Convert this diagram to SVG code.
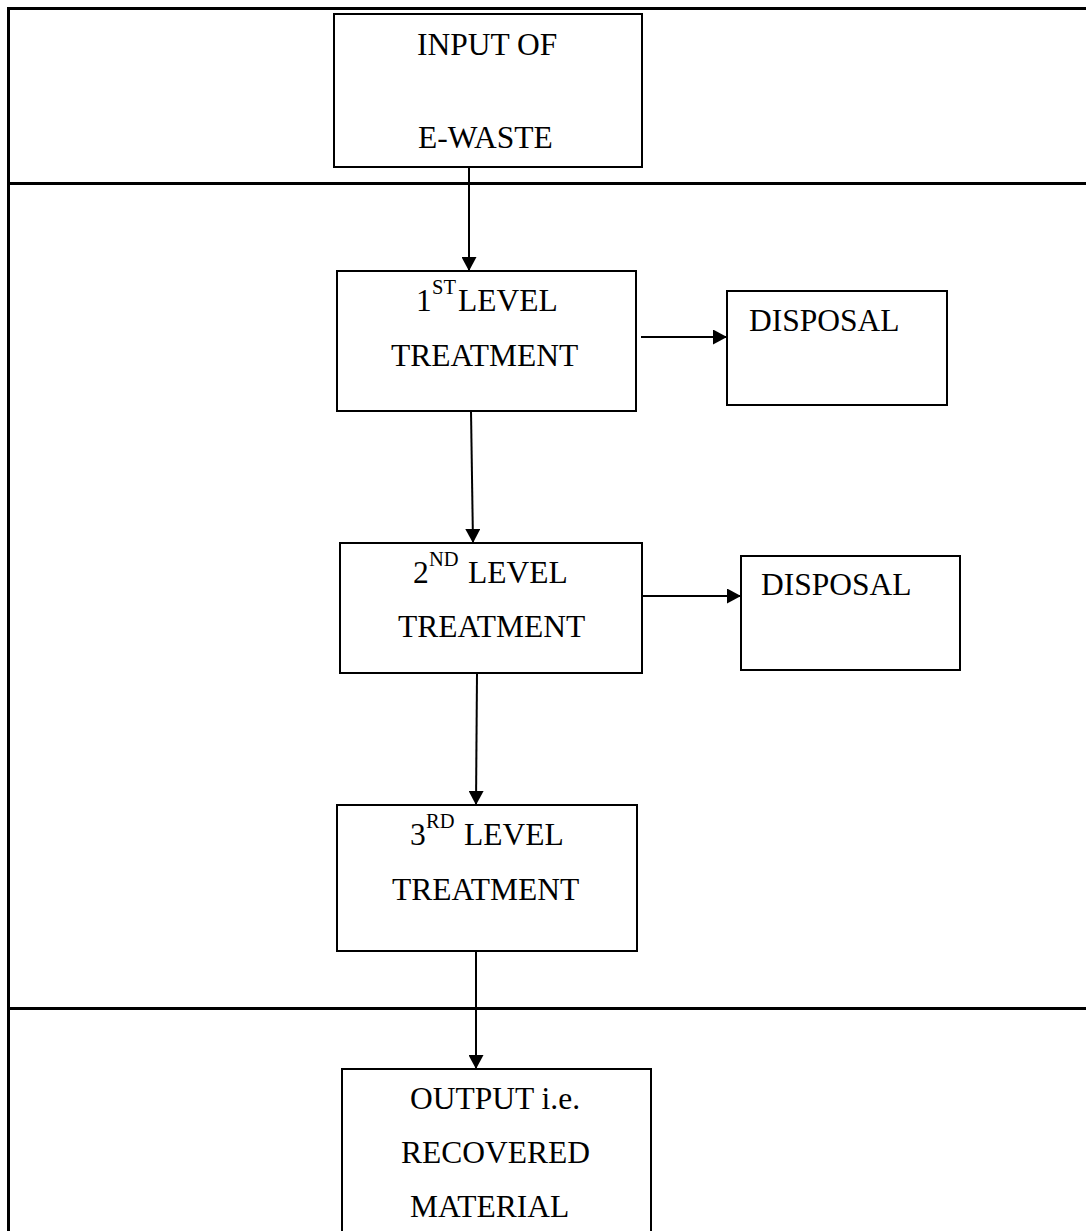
<svg xmlns="http://www.w3.org/2000/svg" width="1086" height="1231" viewBox="0 0 1086 1231">
<style>
.frame{stroke:#000;stroke-width:3;fill:none}
.box{stroke:#000;stroke-width:2;fill:#fff}
.conn{stroke:#000;stroke-width:2;fill:none}
text{font-family:"Liberation Serif","Times New Roman",serif;font-size:31.5px;fill:#000}
.sup{font-size:20.5px}
</style>
<defs>
<marker id="ah" markerUnits="userSpaceOnUse" markerWidth="15" markerHeight="15" refX="14" refY="7.5" orient="auto">
<path d="M0,0 L14,7.5 L0,15 z" fill="#000"/>
</marker>
</defs>
<rect width="1086" height="1231" fill="#fff"/>
<g id="frame">
<line class="frame" x1="8.5" y1="8.5" x2="1086" y2="8.5"/>
<line class="frame" x1="8.5" y1="7" x2="8.5" y2="1231"/>
<line class="frame" x1="8.5" y1="183.5" x2="1086" y2="183.5"/>
<line class="frame" x1="8.5" y1="1008.5" x2="1086" y2="1008.5"/>
</g>
<g id="connectors">
<line class="conn" x1="469" y1="167" x2="469" y2="271" marker-end="url(#ah)"/>
<line class="conn" x1="641" y1="337" x2="727" y2="337" marker-end="url(#ah)"/>
<line class="conn" x1="471" y1="411" x2="473" y2="543" marker-end="url(#ah)"/>
<line class="conn" x1="643" y1="596" x2="741" y2="596" marker-end="url(#ah)"/>
<line class="conn" x1="477" y1="673" x2="476" y2="805" marker-end="url(#ah)"/>
<line class="conn" x1="476" y1="951" x2="476" y2="1069" marker-end="url(#ah)"/>
</g>
<g id="input">
<rect class="box" x="334" y="14" width="308" height="153"/>
<text x="417" y="55">INPUT OF</text>
<text x="418" y="148">E-WASTE</text>
</g>
<g id="level1">
<rect class="box" x="337" y="271" width="299" height="140"/>
<text x="416" y="311">1<tspan class="sup" x="432" y="294">ST</tspan><tspan x="458" y="311">LEVEL</tspan></text>
<text x="391" y="366">TREATMENT</text>
</g>
<g id="disposal1">
<rect class="box" x="727" y="291" width="220" height="114"/>
<text x="749" y="331">DISPOSAL</text>
</g>
<g id="level2">
<rect class="box" x="340" y="543" width="302" height="130"/>
<text x="413" y="583">2<tspan class="sup" x="429" y="566">ND</tspan><tspan x="468" y="583">LEVEL</tspan></text>
<text x="398" y="637">TREATMENT</text>
</g>
<g id="disposal2">
<rect class="box" x="741" y="556" width="219" height="114"/>
<text x="761" y="595">DISPOSAL</text>
</g>
<g id="level3">
<rect class="box" x="337" y="805" width="300" height="146"/>
<text x="410" y="845">3<tspan class="sup" x="426" y="828">RD</tspan><tspan x="464" y="845">LEVEL</tspan></text>
<text x="392" y="900">TREATMENT</text>
</g>
<g id="output">
<rect class="box" x="342" y="1069" width="309" height="175"/>
<text x="410" y="1109">OUTPUT i.e.</text>
<text x="401" y="1163">RECOVERED</text>
<text x="410" y="1217">MATERIAL</text>
</g>
</svg>
